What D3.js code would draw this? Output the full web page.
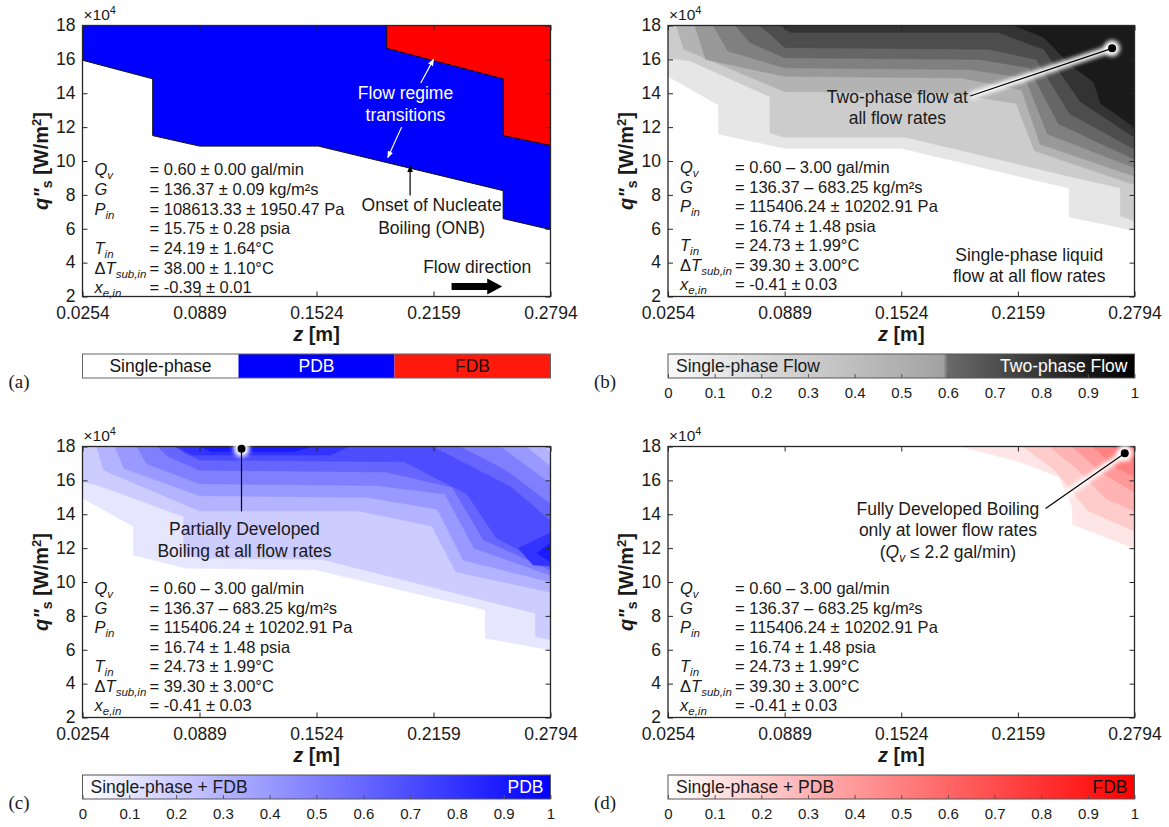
<!DOCTYPE html>
<html>
<head>
<meta charset="utf-8">
<script src="https://cdn.jsdelivr.net/npm/d3@7"></script>
<style>
  body { margin: 0; background: #fff; }
  svg text { font-family: "Liberation Sans", Arial, sans-serif; fill: #1a1a1a; }
</style>
</head>
<body>
<svg id="chart"></svg>
<script>
// axis ticks (z in m, q in x1e4 W/m2)
var zTicks = [0.0254, 0.0889, 0.1524, 0.2159, 0.2794];
var qTicks = [2, 4, 6, 8, 10, 12, 14, 16, 18];
var cbTicks = [0, 0.1, 0.2, 0.3, 0.4, 0.5, 0.6, 0.7, 0.8, 0.9, 1];

// (a) single-phase / PDB / FDB boundaries
var aOnb = [[0.0254, 15.95], [0.0635, 14.85], [0.0635, 11.5], [0.0889, 10.88], [0.1534, 10.88],
  [0.2537, 8.25], [0.2537, 6.6], [0.2794, 5.95]];
var aFdb = [[0.1905, 18], [0.1905, 16.65], [0.2537, 14.85], [0.2537, 11.5], [0.2794, 10.92]];
var aCats = ["Single-phase", "PDB", "FDB"];

// (b) fraction of flow rates with two-phase flow, one region per level
var bLevels = [0.1, 0.2, 0.3, 0.4, 0.5, 0.6, 0.7, 0.8, 0.9];
var bRegions = [
  [[[0.0254, 15.0], [0.0529, 13.3], [0.0529, 11.6], [0.0889, 10.75], [0.1524, 10.75], [0.2438, 8.4], [0.2438, 6.7], [0.2794, 5.9], [0.2794, 18], [0.0254, 18]]],
  [[[0.0254, 16.1], [0.0375, 15.9], [0.0809, 13.8], [0.0809, 11.65], [0.0889, 11.4], [0.155, 11.4], [0.2438, 9.1], [0.2718, 8.4], [0.2718, 6.75], [0.2794, 6.45], [0.2794, 18], [0.0254, 18]]],
  [[[0.030, 18], [0.034, 16.6], [0.0889, 14.1], [0.180, 14.0], [0.215, 13.4], [0.225, 10.6], [0.2794, 8.6], [0.2794, 18]]],
  [[[0.040, 18], [0.046, 16.0], [0.0889, 15.0], [0.185, 14.9], [0.218, 14.2], [0.228, 11.0], [0.2794, 9.1], [0.2794, 18]]],
  [[[0.050, 18], [0.058, 16.5], [0.0889, 15.5], [0.190, 15.4], [0.220, 14.9], [0.232, 11.6], [0.2794, 9.6], [0.2794, 18]]],
  [[[0.062, 18], [0.070, 17.0], [0.0889, 16.1], [0.195, 16.0], [0.222, 15.5], [0.238, 12.2], [0.2794, 10.1], [0.2794, 18]]],
  [[[0.075, 18], [0.082, 17.4], [0.0889, 16.7], [0.200, 16.6], [0.226, 16.0], [0.244, 12.8], [0.2794, 10.7], [0.2794, 18]]],
  [[[0.087, 18], [0.092, 17.6], [0.205, 17.6], [0.230, 16.6], [0.250, 13.5], [0.2794, 11.4], [0.2794, 18]]],
  [[[0.214, 18], [0.230, 17.3], [0.2448, 15.65], [0.2573, 14.67], [0.261, 13.4], [0.2794, 12.0], [0.2794, 18]]]
];

// (c) fraction of flow rates with PDB
var cLevels = [0.1, 0.2, 0.3, 0.4, 0.5, 0.6, 0.7, 0.8, 0.9];
var cRegions = [
  [[[0.0254, 14.95], [0.0531, 13.28], [0.0531, 11.6], [0.0812, 10.82], [0.1517, 10.72], [0.244, 8.36], [0.244, 6.68], [0.2794, 6.0], [0.2794, 18], [0.0254, 18]]],
  [[[0.0254, 15.93], [0.034, 15.7], [0.0803, 13.87], [0.0803, 11.7], [0.0889, 11.42], [0.155, 11.35], [0.2712, 8.16], [0.2712, 6.78], [0.2794, 6.6], [0.2794, 18], [0.0254, 18]]],
  [[[0.033, 18], [0.037, 16.6], [0.0889, 14.2], [0.175, 14.2], [0.215, 13.3], [0.228, 10.6], [0.2794, 9.4], [0.2794, 17.6], [0.276, 18]]],
  [[[0.043, 18], [0.048, 16.7], [0.0889, 15.1], [0.180, 15.0], [0.218, 14.3], [0.232, 11.3], [0.2794, 10.0], [0.2794, 16.8], [0.266, 18]]],
  [[[0.055, 18], [0.060, 17.0], [0.0889, 15.8], [0.185, 15.7], [0.222, 15.2], [0.238, 12.0], [0.2794, 10.4], [0.2794, 15.8], [0.252, 18]]],
  [[[0.066, 18], [0.072, 17.4], [0.0889, 16.6], [0.190, 16.5], [0.226, 15.6], [0.243, 12.5], [0.2794, 10.7], [0.2794, 14.6], [0.255, 16.6], [0.230, 18]]],
  [[[0.076, 18], [0.081, 17.6], [0.0889, 17.2], [0.200, 17.1], [0.234, 15.2], [0.250, 12.6], [0.2794, 10.9], [0.2794, 13.6], [0.258, 15.6], [0.215, 18]]],
  [[[0.076, 18], [0.085, 17.5], [0.160, 17.5], [0.170, 18]], [[0.2794, 12.9], [0.262, 12.0], [0.270, 11.0], [0.2794, 10.95]]],
  [[[0.0889, 18], [0.095, 17.7], [0.140, 17.7], [0.150, 18]], [[0.2794, 12.3], [0.272, 11.7], [0.2794, 11.2]]]
];

// (d) fraction of flow rates with FDB
var dLevels = [0.1, 0.2, 0.3, 0.4, 0.5, 0.6];
var dRegions = [
  [[[0.1851, 18], [0.2167, 17.1], [0.2384, 16.2], [0.2456, 14.45], [0.2456, 13.4], [0.2794, 12.0], [0.2794, 18]]],
  [[[0.2185, 18], [0.236, 16.6], [0.254, 14.2], [0.2794, 13.0], [0.2794, 18]]],
  [[[0.233, 18], [0.249, 16.6], [0.264, 14.9], [0.2794, 14.2], [0.2794, 18]]],
  [[[0.2456, 18], [0.261, 16.5], [0.2794, 15.3], [0.2794, 18]]],
  [[[0.2565, 18], [0.269, 16.8], [0.2794, 16.2], [0.2794, 18]]],
  [[[0.2673, 18], [0.2794, 17.1], [0.2794, 18]]]
];

// operating conditions printed in each panel
var condSymbols = [["Q", "v"], ["G", ""], ["P", "in"], ["", ""], ["T", "in"], ["ΔT", "sub,in"], ["x", "e,in"]];
var condA = ["= 0.60 ± 0.00 gal/min", "= 136.37 ± 0.09 kg/m²s", "= 108613.33 ± 1950.47 Pa",
  "= 15.75 ± 0.28 psia", "= 24.19 ± 1.64°C", "= 38.00 ± 1.10°C", "= -0.39 ± 0.01"];
var condAll = ["= 0.60 – 3.00 gal/min", "= 136.37 – 683.25 kg/m²s", "= 115406.24 ± 10202.91 Pa",
  "= 16.74 ± 1.48 psia", "= 24.73 ± 1.99°C", "= 39.30 ± 3.00°C", "= -0.41 ± 0.03"];

var W = 1169, H = 827;
var svg = d3.select("#chart").attr("width", W).attr("height", H);
var defs = svg.append("defs");
defs.append("filter").attr("id", "glow").attr("x", "-50%").attr("y", "-50%")
  .attr("width", "200%").attr("height", "200%")
  .append("feGaussianBlur").attr("stdDeviation", 2.2);
[["headW", "#fff"], ["headK", "#000"]].forEach(function(m) {
  defs.append("marker").attr("id", m[0]).attr("viewBox", "0 0 10 10")
    .attr("refX", 9).attr("refY", 5).attr("markerWidth", 7).attr("markerHeight", 7)
    .attr("orient", "auto").attr("markerUnits", "userSpaceOnUse")
    .append("path").attr("d", "M0,1 L10,5 L0,9 Z").attr("fill", m[1]);
});

var grayMap = d3.scaleLinear().domain([0, 1]).range(["#ffffff", "#000000"]);
// the printed grey colour bar has a visible step near 0.59
var grayBar = d3.scaleLinear().domain([0, 0.59, 0.593, 1]).range(["#f8f8f8", "#a2a2a2", "#6c6c6c", "#000000"]);
var blueMap = d3.scaleLinear().domain([0, 1]).range(["#ffffff", "#0000ff"]);
var redMap = d3.scaleLinear().domain([0, 1]).range(["#ffffff", "#ff0000"]);

var panels = [
  { key: "a", left: 82.5, right: 550.5, top: 25.5, bottom: 296.5, cond: condA, condTop: 9.49, condStep: 1.16 },
  { key: "b", left: 668, right: 1134.5, top: 25.5, bottom: 296.5, cond: condAll, condTop: 9.62, condStep: 1.15 },
  { key: "c", left: 82.5, right: 550.5, top: 446.5, bottom: 717.5, cond: condAll, condTop: 9.62, condStep: 1.15 },
  { key: "d", left: 668, right: 1134.5, top: 446.5, bottom: 717.5, cond: condAll, condTop: 9.62, condStep: 1.15 }
];

function frame(p) {
  var x = d3.scaleLinear().domain([zTicks[0], zTicks[zTicks.length - 1]]).range([p.left, p.right]);
  var y = d3.scaleLinear().domain([qTicks[0], qTicks[qTicks.length - 1]]).range([p.bottom, p.top]);
  var g = svg.append("g");
  defs.append("clipPath").attr("id", "clip" + p.key).append("rect")
    .attr("x", p.left).attr("y", p.top).attr("width", p.right - p.left).attr("height", p.bottom - p.top);
  var plot = g.append("g").attr("clip-path", "url(#clip" + p.key + ")");
  return { g: g, plot: plot, x: x, y: y };
}

function axes(p, f) {
  var g = f.g;
  var bottom = g.append("g").attr("transform", "translate(0," + p.bottom + ")")
    .call(d3.axisBottom(f.x).tickValues(zTicks).tickFormat(d3.format(".4f")).tickSizeInner(-5).tickSizeOuter(0).tickPadding(10));
  var top = g.append("g").attr("transform", "translate(0," + p.top + ")")
    .call(d3.axisTop(f.x).tickValues(zTicks).tickFormat("").tickSizeInner(-5).tickSizeOuter(0));
  var left = g.append("g").attr("transform", "translate(" + p.left + ",0)")
    .call(d3.axisLeft(f.y).tickValues(qTicks).tickSizeInner(-5).tickSizeOuter(0).tickPadding(7));
  var right = g.append("g").attr("transform", "translate(" + p.right + ",0)")
    .call(d3.axisRight(f.y).tickValues(qTicks).tickFormat("").tickSizeInner(-5).tickSizeOuter(0));
  [bottom, top, left, right].forEach(function(a) {
    a.select(".domain").remove();
    a.selectAll("line").attr("stroke", "#262626");
    a.selectAll("text").style("font-size", "17.5px").attr("fill", "#262626")
      .style("font-family", "'Liberation Sans', Arial, sans-serif");
  });
  left.selectAll("text").attr("dy", "0.3em");
  g.append("rect").attr("x", p.left).attr("y", p.top).attr("width", p.right - p.left)
    .attr("height", p.bottom - p.top).attr("fill", "none").attr("stroke", "#262626").attr("stroke-width", 1.3);

  // x10^4 multiplier
  var m = g.append("text").attr("x", p.left + 1).attr("y", p.top - 6).style("font-size", "15.5px");
  m.append("tspan").text("×10");
  m.append("tspan").attr("dy", -6).style("font-size", "11px").text("4");

  // axis titles
  var xl = g.append("text").attr("x", (p.left + p.right) / 2).attr("y", p.bottom + 44)
    .attr("text-anchor", "middle").style("font-size", "20px").style("font-weight", "bold");
  xl.append("tspan").style("font-style", "italic").text("z");
  xl.append("tspan").text(" [m]");

  var yl = g.append("text").attr("text-anchor", "middle")
    .attr("transform", "translate(" + (p.left - 35) + "," + ((p.top + p.bottom) / 2) + ") rotate(-90)")
    .style("font-size", "20px").style("font-weight", "bold");
  yl.append("tspan").style("font-style", "italic").text("q\"");
  yl.append("tspan").attr("dy", 4).style("font-size", "14px").text("s");
  yl.append("tspan").attr("dy", -4).text(" [W/m");
  yl.append("tspan").attr("dy", -7).style("font-size", "13px").text("2");
  yl.append("tspan").attr("dy", 7).text("]");
}

function conditions(p, f) {
  var g = f.g;
  condSymbols.forEach(function(s, i) {
    var yy = f.y(p.condTop - i * p.condStep);
    var t = g.append("text").attr("x", p.left + 12).attr("y", yy).attr("dy", "0.35em").style("font-size", "16.5px");
    if (s[0].charAt(0) === "Δ") {
      t.append("tspan").text("Δ");
      t.append("tspan").style("font-style", "italic").text(s[0].slice(1));
    } else {
      t.append("tspan").style("font-style", "italic").text(s[0]);
    }
    if (s[1]) t.append("tspan").attr("dy", 4).style("font-size", "11.5px").style("font-style", "italic").text(s[1]);
    g.append("text").attr("x", p.left + 67).attr("y", yy).attr("dy", "0.35em").style("font-size", "16.5px").text(p.cond[i]);
  });
}

function label(f, z, q, txt, color) {
  return f.g.append("text").attr("x", f.x(z)).attr("y", f.y(q)).attr("dy", "0.35em")
    .attr("text-anchor", "middle").style("font-size", "17.5px").style("fill", color || "#1a1a1a").text(txt);
}

function pointer(f, from, to) {
  var ln = [[f.x(from[0]), f.y(from[1])], [f.x(to[0]), f.y(to[1])]];
  f.g.append("path").attr("d", d3.line()(ln)).attr("stroke", "#fff").attr("stroke-width", 7)
    .attr("fill", "none").attr("filter", "url(#glow)");
  f.g.append("circle").attr("cx", ln[1][0]).attr("cy", ln[1][1]).attr("r", 8).attr("fill", "#fff").attr("filter", "url(#glow)");
  f.g.append("path").attr("d", d3.line()(ln)).attr("stroke", "#000").attr("stroke-width", 1.2).attr("fill", "none");
  f.g.append("circle").attr("cx", ln[1][0]).attr("cy", ln[1][1]).attr("r", 4).attr("fill", "#000");
}

function regions(f, list, levels, cmap) {
  var line = d3.line().x(function(d) { return f.x(d[0]); }).y(function(d) { return f.y(d[1]); });
  list.forEach(function(rings, i) {
    rings.forEach(function(r) {
      f.plot.append("path").attr("d", line(r) + "Z").attr("fill", cmap(levels[i]))
        .attr("stroke", cmap(levels[i])).attr("stroke-width", 0.6);
    });
  });
}

function colorbar(p, cmap, leftTxt, rightTxt, rightColor, tag) {
  var cx = d3.scaleLinear().domain([0, 1]).range([p.left, p.right]);
  var top = p.bottom + 57.5, h = 24;
  var gid = "grad" + p.key;
  var grad = defs.append("linearGradient").attr("id", gid);
  d3.range(0, 1.0001, 0.01).forEach(function(t) {
    grad.append("stop").attr("offset", t).attr("stop-color", cmap(t));
  });
  svg.append("rect").attr("x", p.left).attr("y", top).attr("width", p.right - p.left).attr("height", h)
    .attr("fill", "url(#" + gid + ")").attr("stroke", "#555").attr("stroke-width", 1);
  svg.append("g").attr("transform", "translate(0," + (top + h) + ")")
    .call(d3.axisBottom(cx).tickValues(cbTicks).tickFormat(d3.format("")).tickSizeInner(-4).tickSizeOuter(0).tickPadding(9))
    .call(function(a) {
      a.select(".domain").remove();
      a.selectAll("line").attr("stroke", "#555");
      a.selectAll("text").style("font-size", "15px").attr("fill", "#262626")
        .style("font-family", "'Liberation Sans', Arial, sans-serif");
    });
  svg.append("text").attr("x", p.left + 8).attr("y", top + h / 2).attr("dy", "0.36em")
    .style("font-size", "17.5px").text(leftTxt);
  svg.append("text").attr("x", p.right - 7).attr("y", top + h / 2).attr("dy", "0.36em")
    .attr("text-anchor", "end").style("font-size", "17.5px").style("fill", rightColor).text(rightTxt);
  svg.append("text").attr("x", p.left - 74).attr("y", top + 34)
    .style("font-family", "'Liberation Serif', 'Times New Roman', serif").style("font-size", "19px").text(tag);
}

// ---------- panel (a)
var pa = panels[0], fa = frame(pa);
var lineA = d3.line().x(function(d) { return fa.x(d[0]); }).y(function(d) { return fa.y(d[1]); });
var aColors = ["#ffffff", "#0000ff", "#ff0000"];
fa.plot.append("path").attr("d", lineA(aOnb.concat([[zTicks[4], 18], [zTicks[0], 18]])) + "Z").attr("fill", aColors[1]);
fa.plot.append("path").attr("d", lineA(aFdb.concat([[zTicks[4], 18]])) + "Z").attr("fill", aColors[2]);
[aOnb, aFdb].forEach(function(b) {
  fa.plot.append("path").attr("d", lineA(b)).attr("fill", "none").attr("stroke", "#111").attr("stroke-width", 1);
});
axes(pa, fa);
conditions(pa, fa);
label(fa, 0.2007, 14.0, "Flow regime", "#fff");
label(fa, 0.2007, 12.7, "transitions", "#fff");
[[[0.209, 14.6], [0.2159, 16.0]], [[0.1986, 12.0], [0.1911, 10.2]]].forEach(function(s) {
  fa.g.append("line").attr("x1", fa.x(s[0][0])).attr("y1", fa.y(s[0][1]))
    .attr("x2", fa.x(s[1][0])).attr("y2", fa.y(s[1][1]))
    .attr("stroke", "#fff").attr("stroke-width", 1.2).attr("marker-end", "url(#headW)");
});
fa.g.append("line").attr("x1", fa.x(0.2032)).attr("y1", fa.y(7.97)).attr("x2", fa.x(0.2032)).attr("y2", fa.y(9.72))
  .attr("stroke", "#000").attr("stroke-width", 1.2).attr("marker-end", "url(#headK)");
label(fa, 0.2149, 7.4, "Onset of Nucleate");
label(fa, 0.2149, 6.05, "Boiling (ONB)");
label(fa, 0.2396, 3.77, "Flow direction");
(function() {
  var x1 = fa.x(0.2257), x2 = fa.x(0.2532), yy = fa.y(2.59);
  fa.g.append("path").attr("d", "M" + x1 + "," + (yy - 3.5) + "H" + (x2 - 15) + "V" + (yy - 8) + "L" + x2 + "," + yy +
    "L" + (x2 - 15) + "," + (yy + 8) + "V" + (yy + 3.5) + "H" + x1 + "Z").attr("fill", "#000");
})();
(function() {
  var cx = d3.scaleBand().domain(aCats).range([pa.left, pa.right]);
  var top = pa.bottom + 57.5;
  aCats.forEach(function(c, i) {
    svg.append("rect").attr("x", cx(c)).attr("y", top).attr("width", cx.bandwidth()).attr("height", 24)
      .attr("fill", i === 2 ? "#ff1a0d" : aColors[i]);
    svg.append("text").attr("x", cx(c) + cx.bandwidth() / 2).attr("y", top + 12).attr("dy", "0.36em")
      .attr("text-anchor", "middle").style("font-size", "17.5px").style("fill", i === 1 ? "#fff" : "#111").text(c);
  });
  svg.append("rect").attr("x", pa.left).attr("y", top).attr("width", pa.right - pa.left).attr("height", 24)
    .attr("fill", "none").attr("stroke", "#666").attr("stroke-width", 1);
  svg.append("text").attr("x", pa.left - 74).attr("y", top + 34)
    .style("font-family", "'Liberation Serif', 'Times New Roman', serif").style("font-size", "19px").text("(a)");
})();

// ---------- panel (b)
var pb = panels[1], fb = frame(pb);
regions(fb, bRegions, bLevels, grayMap);
axes(pb, fb);
conditions(pb, fb);
pointer(fb, [0.1900, 13.84], [0.2672, 16.65]);
label(fb, 0.1503, 13.8, "Two-phase flow at");
label(fb, 0.1503, 12.53, "all flow rates");
label(fb, 0.2221, 4.48, "Single-phase liquid");
label(fb, 0.2221, 3.2, "flow at all flow rates");
colorbar(pb, grayBar, "Single-phase Flow", "Two-phase Flow", "#fff", "(b)");

// ---------- panel (c)
var pc = panels[2], fc = frame(pc);
regions(fc, cRegions, cLevels, blueMap);
axes(pc, fc);
conditions(pc, fc);
pointer(fc, [0.1117, 14.17], [0.1117, 17.86]);
label(fc, 0.1133, 13.12, "Partially Developed");
label(fc, 0.1133, 11.81, "Boiling at all flow rates");
colorbar(pc, blueMap, "Single-phase + FDB", "PDB", "#fff", "(c)");

// ---------- panel (d)
var pd = panels[3], fd = frame(pd);
regions(fd, dRegions, dLevels, redMap);
axes(pd, fd);
conditions(pd, fd);
pointer(fd, [0.2310, 14.34], [0.2741, 17.6]);
label(fd, 0.1778, 14.34, "Fully Developed Boiling");
label(fd, 0.1778, 13.08, "only at lower flow rates");
(function() {
  var t = fd.g.append("text").attr("x", fd.x(0.1778)).attr("y", fd.y(11.8)).attr("dy", "0.35em")
    .attr("text-anchor", "middle").style("font-size", "17.5px");
  t.append("tspan").text("(");
  t.append("tspan").style("font-style", "italic").text("Q");
  t.append("tspan").attr("dy", 4).style("font-size", "12px").style("font-style", "italic").text("v");
  t.append("tspan").attr("dy", -4).text(" ≤ 2.2 gal/min)");
})();
colorbar(pd, redMap, "Single-phase + PDB", "FDB", "#111", "(d)");
</script>
</body>
</html>
